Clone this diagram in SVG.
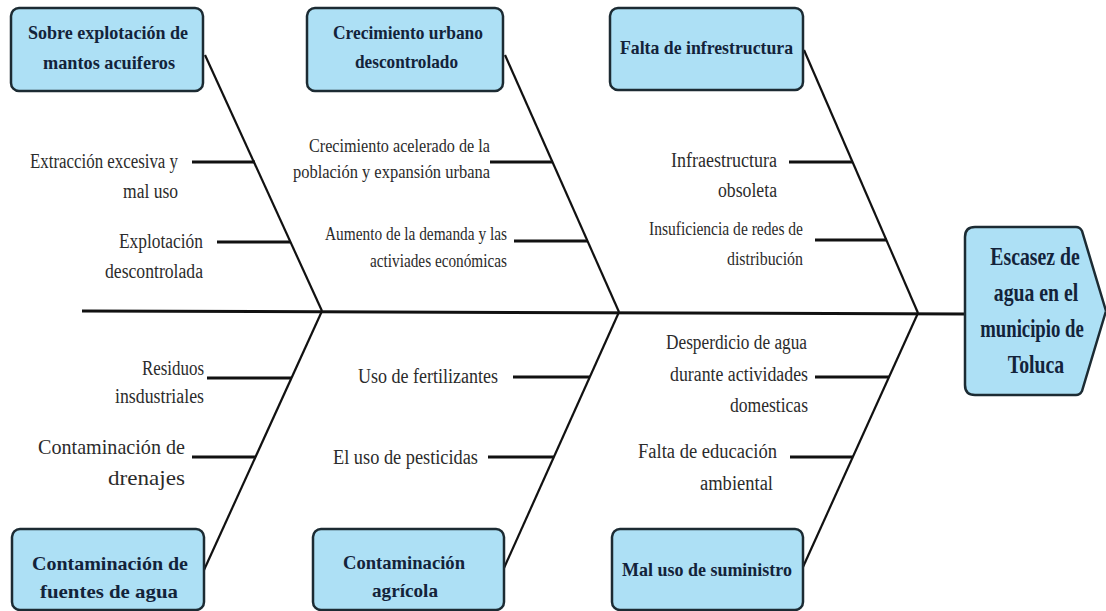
<svg xmlns="http://www.w3.org/2000/svg" width="1106" height="611" viewBox="0 0 1106 611">
<style>
.box{fill:#ADE0F5;stroke:#1c2b33;stroke-width:2.5}
.bt{font-weight:bold;font-size:19px;fill:#13233a}
.ht{font-weight:bold;font-size:26px;fill:#13233a;text-anchor:middle}
.lb{font-size:20px;fill:#2b2b2b}
.bone{stroke:#111;stroke-width:2.2;fill:none}
.sub{stroke:#111;stroke-width:3;fill:none}
.spine{stroke:#111;stroke-width:3;fill:none}
</style>
<rect width="1106" height="611" fill="#ffffff"/>
<g id="connectors">
<line class="spine" x1="82" y1="311" x2="965" y2="314"/>
<line class="bone" x1="205" y1="55" x2="322" y2="311"/>
<line class="bone" x1="505" y1="55" x2="619" y2="312"/>
<line class="bone" x1="804" y1="50" x2="918" y2="313"/>
<line class="bone" x1="322" y1="311" x2="204" y2="570"/>
<line class="bone" x1="619" y1="312" x2="504" y2="568"/>
<line class="bone" x1="918" y1="313" x2="803" y2="567"/>
<line class="sub" x1="192" y1="162" x2="255" y2="162"/>
<line class="sub" x1="217" y1="242" x2="290" y2="242"/>
<line class="sub" x1="490" y1="162" x2="553" y2="162"/>
<line class="sub" x1="514" y1="241" x2="588" y2="241"/>
<line class="sub" x1="789" y1="162" x2="853" y2="162"/>
<line class="sub" x1="815" y1="240" x2="887" y2="240"/>
<line class="sub" x1="207" y1="378" x2="291" y2="378"/>
<line class="sub" x1="192" y1="457" x2="256" y2="457"/>
<line class="sub" x1="513" y1="377" x2="590" y2="377"/>
<line class="sub" x1="488" y1="457" x2="554" y2="457"/>
<line class="sub" x1="815" y1="377" x2="889" y2="377"/>
<line class="sub" x1="790" y1="457" x2="853" y2="457"/>
</g>
<g id="labels" font-family="Liberation Serif, Tinos, DejaVu Serif, serif">
<text class="lb" x="30" y="168" textLength="148" lengthAdjust="spacingAndGlyphs">Extracción excesiva y</text>
<text class="lb" x="123" y="198" textLength="55" lengthAdjust="spacingAndGlyphs">mal uso</text>
<text class="lb" x="119" y="248" textLength="84" lengthAdjust="spacingAndGlyphs">Explotación</text>
<text class="lb" x="105" y="278" textLength="98" lengthAdjust="spacingAndGlyphs">descontrolada</text>
<text class="lb" x="309" y="152" textLength="181" lengthAdjust="spacingAndGlyphs" style="font-size:19px">Crecimiento acelerado de la</text>
<text class="lb" x="293" y="178" textLength="197" lengthAdjust="spacingAndGlyphs" style="font-size:19px">población y expansión urbana</text>
<text class="lb" x="325" y="240" textLength="182" lengthAdjust="spacingAndGlyphs" style="font-size:18px">Aumento de la demanda y las</text>
<text class="lb" x="370" y="267" textLength="137" lengthAdjust="spacingAndGlyphs" style="font-size:18px">activiades económicas</text>
<text class="lb" x="671" y="167" textLength="106" lengthAdjust="spacingAndGlyphs">Infraestructura</text>
<text class="lb" x="718" y="197" textLength="59" lengthAdjust="spacingAndGlyphs">obsoleta</text>
<text class="lb" x="649" y="235" textLength="154" lengthAdjust="spacingAndGlyphs" style="font-size:19px">Insuficiencia de redes de</text>
<text class="lb" x="727" y="265" textLength="76" lengthAdjust="spacingAndGlyphs" style="font-size:19px">distribución</text>
<text class="lb" x="142" y="375" textLength="62" lengthAdjust="spacingAndGlyphs">Residuos</text>
<text class="lb" x="115" y="403" textLength="89" lengthAdjust="spacingAndGlyphs">insdustriales</text>
<text class="lb" x="38" y="454" textLength="147" lengthAdjust="spacingAndGlyphs" style="font-size:21px">Contaminación de</text>
<text class="lb" x="108" y="485" textLength="77" lengthAdjust="spacingAndGlyphs" style="font-size:21px">drenajes</text>
<text class="lb" x="358" y="383" textLength="140" lengthAdjust="spacingAndGlyphs">Uso de fertilizantes</text>
<text class="lb" x="333" y="464" textLength="145" lengthAdjust="spacingAndGlyphs">El uso de pesticidas</text>
<text class="lb" x="666" y="349" textLength="141" lengthAdjust="spacingAndGlyphs">Desperdicio de agua</text>
<text class="lb" x="670" y="381" textLength="138" lengthAdjust="spacingAndGlyphs">durante actividades</text>
<text class="lb" x="730" y="412" textLength="78" lengthAdjust="spacingAndGlyphs">domesticas</text>
<text class="lb" x="638" y="458" textLength="139" lengthAdjust="spacingAndGlyphs">Falta de educación</text>
<text class="lb" x="700" y="490" textLength="73" lengthAdjust="spacingAndGlyphs">ambiental</text>
</g>
<g id="cause-sobreexplotacion" font-family="Liberation Serif, Tinos, DejaVu Serif, serif">
<rect class="box" x="11" y="8" width="192" height="83" rx="8"/>
<text class="bt" x="28" y="39" textLength="160" lengthAdjust="spacingAndGlyphs">Sobre explotación de</text>
<text class="bt" x="43" y="69" textLength="132" lengthAdjust="spacingAndGlyphs">mantos acuiferos</text>
</g>
<g id="cause-crecimiento" font-family="Liberation Serif, Tinos, DejaVu Serif, serif">
<rect class="box" x="307" y="8" width="196" height="83" rx="8"/>
<text class="bt" x="333" y="39" textLength="150" lengthAdjust="spacingAndGlyphs">Crecimiento urbano</text>
<text class="bt" x="355" y="68" textLength="103" lengthAdjust="spacingAndGlyphs">descontrolado</text>
</g>
<g id="cause-infraestructura" font-family="Liberation Serif, Tinos, DejaVu Serif, serif">
<rect class="box" x="610" y="8" width="193" height="82" rx="8"/>
<text class="bt" x="620" y="54" textLength="173" lengthAdjust="spacingAndGlyphs">Falta de infrestructura</text>
</g>
<g id="cause-contaminacion-fuentes" font-family="Liberation Serif, Tinos, DejaVu Serif, serif">
<rect class="box" x="12" y="529" width="192" height="81" rx="8"/>
<text class="bt" x="32" y="570" textLength="156" lengthAdjust="spacingAndGlyphs">Contaminación de</text>
<text class="bt" x="40" y="598" textLength="138" lengthAdjust="spacingAndGlyphs">fuentes de agua</text>
</g>
<g id="cause-contaminacion-agricola" font-family="Liberation Serif, Tinos, DejaVu Serif, serif">
<rect class="box" x="313" y="529" width="191" height="81" rx="8"/>
<text class="bt" x="343" y="569" textLength="122" lengthAdjust="spacingAndGlyphs">Contaminación</text>
<text class="bt" x="372" y="597" textLength="66" lengthAdjust="spacingAndGlyphs">agrícola</text>
</g>
<g id="cause-mal-uso" font-family="Liberation Serif, Tinos, DejaVu Serif, serif">
<rect class="box" x="612" y="529" width="191" height="81" rx="8"/>
<text class="bt" x="622" y="576" textLength="170" lengthAdjust="spacingAndGlyphs">Mal uso de suministro</text>
</g>
<g id="effect" font-family="Liberation Serif, Tinos, DejaVu Serif, serif">
<path class="box" d="M975,227 L1076,227 Q1080,227 1082,231 L1106,311 L1082,391 Q1080,395 1076,395 L975,395 Q965,395 965,385 L965,237 Q965,227 975,227 Z"/>
<text class="ht" transform="translate(1035,265) scale(0.76,1)">Escasez de</text>
<text class="ht" transform="translate(1036,301) scale(0.76,1)">agua en el</text>
<text class="ht" transform="translate(1032,337) scale(0.72,1)">municipio de</text>
<text class="ht" transform="translate(1036,373) scale(0.76,1)">Toluca</text>
</g>
</svg>
